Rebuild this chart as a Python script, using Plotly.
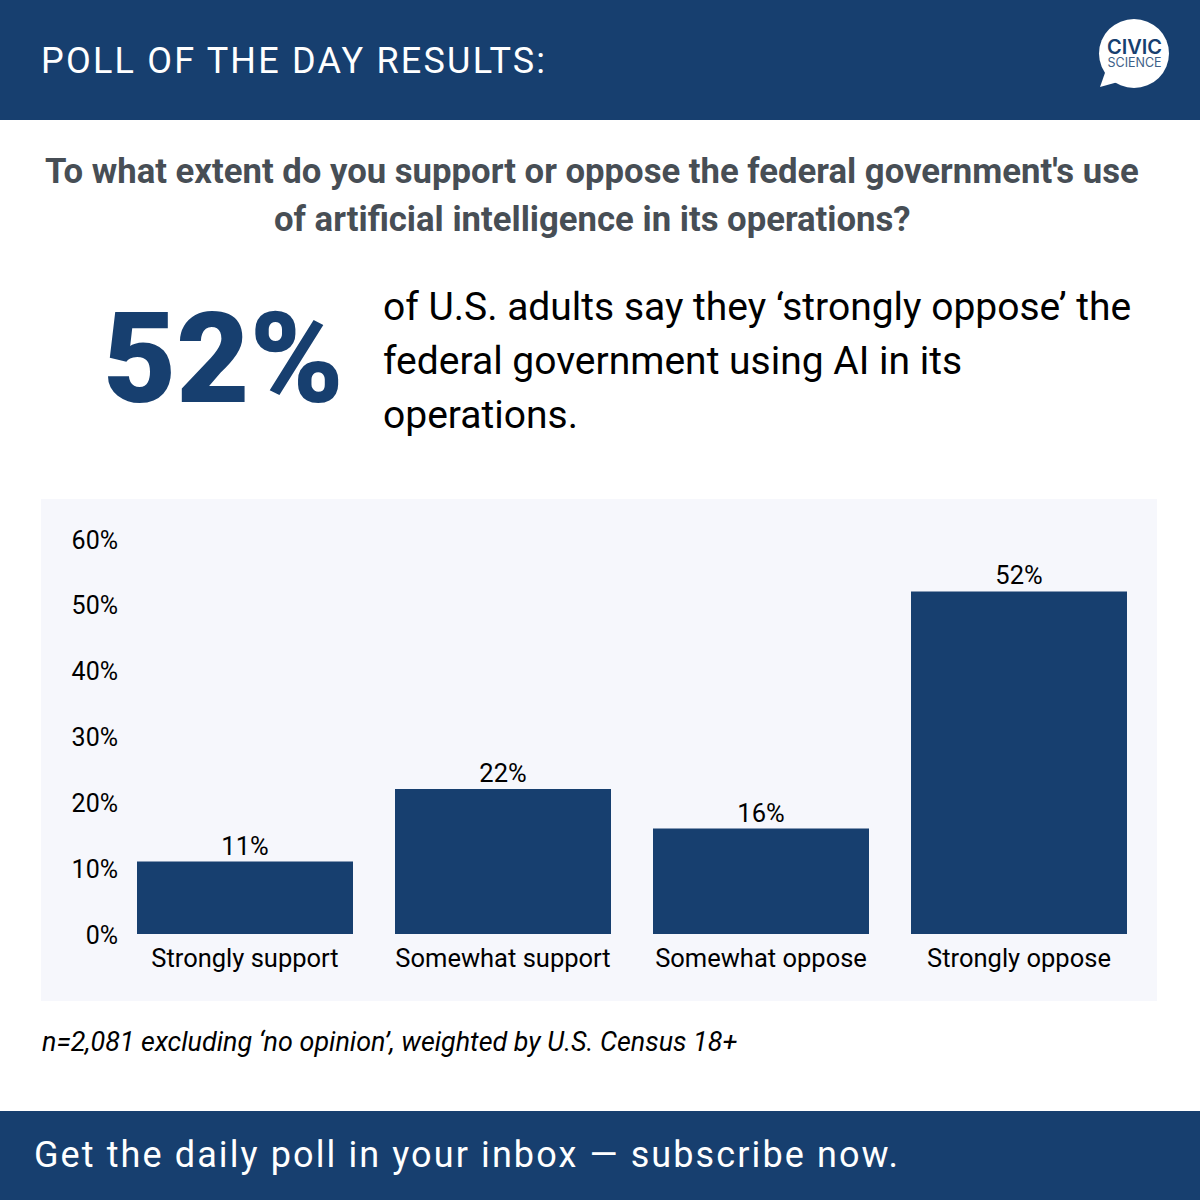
import plotly.graph_objects as go

categories = ["Strongly support", "Somewhat support", "Somewhat oppose", "Strongly oppose"]
values = [11, 22, 16, 52]
value_labels = ["11%", "22%", "16%", "52%"]
tick_values = [0, 10, 20, 30, 40, 50, 60]
tick_labels = ["0%", "10%", "20%", "30%", "40%", "50%", "60%"]

NAVY = "#173f6f"
FONT = "Roboto"
S = 1200.0


def px(x):
    return x / S


def py(y):
    return 1 - y / S


def label(x, y, text, size, color="#000000", weight=400, anchor="left", style="normal", family=FONT):
    return dict(
        x=px(x), y=py(y), xref="paper", yref="paper", text=text, showarrow=False,
        xanchor=anchor, yanchor="middle", align=anchor, xshift=0, yshift=0,
        borderpad=0, borderwidth=0,
        font=dict(family=family, size=size, color=color, weight=weight, style=style),
    )


def rect(x0, y0, x1, y1, color):
    return dict(type="rect", xref="paper", yref="paper", x0=px(x0), x1=px(x1), y0=py(y0), y1=py(y1),
                fillcolor=color, line=dict(width=0), layer="below")


fig = go.Figure(go.Bar(
    x=categories, y=values, text=value_labels, textposition="outside", cliponaxis=False,
    marker=dict(color=NAVY, line=dict(width=0)),
    textfont=dict(family=FONT, size=25.5, color="#000000"),
    hoverinfo="skip", width=216 / 258,
))

shapes = [
    rect(0, 0, 1200, 120, NAVY),
    rect(0, 1111, 1200, 1200, NAVY),
    rect(41, 499, 1157, 1001, "#f6f7fc"),
    dict(type="circle", xref="paper", yref="paper", x0=px(1099), x1=px(1169), y0=py(88), y1=py(19),
         fillcolor="#ffffff", line=dict(width=0), layer="above"),
    dict(type="path", xref="paper", yref="paper", layer="above", fillcolor="#ffffff", line=dict(width=0),
         path=f"M {px(1106)} {py(70)} L {px(1100)} {py(87)} L {px(1118)} {py(82)} Z"),
]

logo_text = ('<span style="font-size:20px;font-weight:600;">CIVIC</span><br>'
             '<span style="font-size:12.5px;color:#3d5f88;">SCIENCE</span>')

annotations = [
    label(41, 61, "POLL OF THE DAY RESULTS:", 36, "#ffffff"),
    label(592, 171, "To what extent do you support or oppose the federal government's use", 34.7, "#474e55", 700, "center"),
    label(592, 219, "of artificial intelligence in its operations?", 34.7, "#474e55", 700, "center"),
    label(103, 359, "52%", 126.5, NAVY, 900),
    label(382.5, 307, "of U.S. adults say they ‘strongly oppose’ the", 39),
    label(382.5, 361, "federal government using AI in its", 39),
    label(382.5, 415, "operations.", 39),
    label(41.5, 1042, "n=2,081 excluding ‘no opinion’, weighted by U.S. Census 18+", 26.9, style="italic"),
    label(34, 1155, "Get the daily poll in your inbox — subscribe now.", 36, "#ffffff"),
    label(1134, 52, logo_text, 10, NAVY, 400, "center", family="Inter"),
]

fig.update_layout(
    width=1200, height=1200, margin=dict(l=0, r=0, t=0, b=0, pad=0, autoexpand=False), autosize=False,
    template=None,
    paper_bgcolor="#ffffff", plot_bgcolor="rgba(0,0,0,0)", showlegend=False,
    bargap=42 / 258, shapes=shapes, annotations=annotations,
    font=dict(family=FONT, color="#000000"),
    xaxis=dict(domain=[px(116), px(1148)], range=[-0.5, 3.5], showgrid=False, zeroline=False, showline=False,
               ticks="", tickfont=dict(family=FONT, size=25.5, color="#000000"), ticklabelstandoff=6,
               fixedrange=True, automargin=False),
    yaxis=dict(domain=[py(934), py(538.8)], range=[0, 60], tickmode="array", tickvals=tick_values,
               ticktext=tick_labels, showgrid=False, zeroline=False, showline=False, ticks="",
               tickfont=dict(family=FONT, size=25, color="#000000"), ticklabelstandoff=-3, fixedrange=True,
               automargin=False),
)

post = """
document.body.style.margin = '0';
var spacing = {'POLL OF': '2.2px', 'Get the': '2.1px'};
document.querySelectorAll('.annotation-text').forEach(function (t) {
  Object.keys(spacing).forEach(function (k) {
    if (t.textContent.indexOf(k) === 0) { t.style.letterSpacing = spacing[k]; }
  });
});
document.querySelectorAll('.bartext').forEach(function (t) {
  var tr = t.getAttribute('transform') || '';
  t.setAttribute('transform', 'translate(0,2) ' + tr);
});
document.querySelectorAll('.ytick text').forEach(function (t) {
  t.setAttribute('transform', 'translate(0,1) ' + (t.getAttribute('transform') || ''));
});
"""
fig.write_html("out.html", post_script=post, config={"displayModeBar": False})
